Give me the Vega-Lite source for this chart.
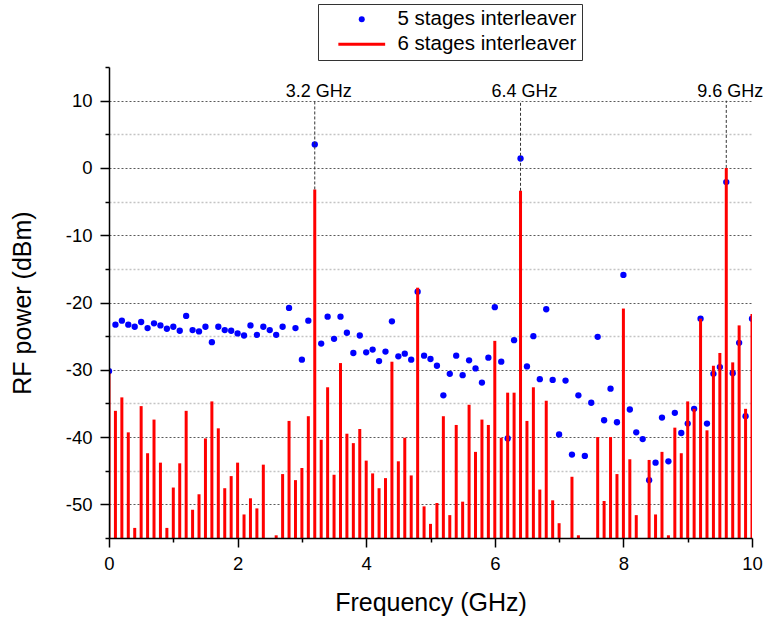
{
  "$schema": "https://vega.github.io/schema/vega-lite/v6.json",
  "width": 643,
  "height": 471,
  "autosize": {"type": "none"},
  "padding": {"left": 109, "top": 67, "right": 13, "bottom": 81},
  "background": "white",
  "config": {"view": {"stroke": null}, "font": "Liberation Sans"},
  "resolve": {"axis": {"x": "independent", "y": "independent"}},
  "datasets": {
    "p5": [
      {"f":0.0,"p":-30.2},{"f":0.1,"p":-23.3},{"f":0.2,"p":-22.7},{"f":0.3,"p":-23.3},{"f":0.4,"p":-23.6},
      {"f":0.5,"p":-22.9},{"f":0.6,"p":-23.8},{"f":0.7,"p":-23.1},{"f":0.8,"p":-23.4},{"f":0.9,"p":-23.9},
      {"f":1.0,"p":-23.6},{"f":1.1,"p":-24.2},{"f":1.2,"p":-22.0},{"f":1.3,"p":-24.1},{"f":1.4,"p":-24.3},
      {"f":1.5,"p":-23.6},{"f":1.6,"p":-25.9},{"f":1.7,"p":-23.6},{"f":1.8,"p":-24.1},{"f":1.9,"p":-24.2},
      {"f":2.0,"p":-24.6},{"f":2.1,"p":-24.9},{"f":2.2,"p":-23.4},{"f":2.3,"p":-24.8},{"f":2.4,"p":-23.6},
      {"f":2.5,"p":-24.1},{"f":2.6,"p":-24.8},{"f":2.7,"p":-23.6},{"f":2.8,"p":-20.8},{"f":2.9,"p":-23.8},
      {"f":3.0,"p":-28.5},{"f":3.1,"p":-22.7},{"f":3.2,"p":3.5},{"f":3.3,"p":-26.1},{"f":3.4,"p":-22.1},
      {"f":3.5,"p":-25.4},{"f":3.6,"p":-22.1},{"f":3.7,"p":-24.5},{"f":3.8,"p":-27.5},{"f":3.9,"p":-24.9},
      {"f":4.0,"p":-27.4},{"f":4.1,"p":-27.0},{"f":4.2,"p":-28.7},{"f":4.3,"p":-27.3},{"f":4.4,"p":-22.8},
      {"f":4.5,"p":-28.0},{"f":4.6,"p":-27.6},{"f":4.7,"p":-28.5},{"f":4.8,"p":-18.4},{"f":4.9,"p":-27.9},
      {"f":5.0,"p":-28.4},{"f":5.1,"p":-29.4},{"f":5.2,"p":-33.8},{"f":5.3,"p":-30.6},{"f":5.4,"p":-27.9},
      {"f":5.5,"p":-30.8},{"f":5.6,"p":-28.6},{"f":5.7,"p":-29.8},{"f":5.8,"p":-31.9},{"f":5.9,"p":-28.2},
      {"f":6.0,"p":-20.7},{"f":6.1,"p":-28.8},{"f":6.2,"p":-40.2},{"f":6.3,"p":-25.6},{"f":6.4,"p":1.4},
      {"f":6.5,"p":-29.5},{"f":6.6,"p":-25.0},{"f":6.7,"p":-31.4},{"f":6.8,"p":-21.0},{"f":6.9,"p":-31.5},
      {"f":7.0,"p":-39.6},{"f":7.1,"p":-31.6},{"f":7.2,"p":-42.6},{"f":7.3,"p":-33.8},{"f":7.4,"p":-42.8},
      {"f":7.5,"p":-34.9},{"f":7.6,"p":-25.1},{"f":7.7,"p":-37.5},{"f":7.8,"p":-32.8},{"f":7.9,"p":-37.8},
      {"f":8.0,"p":-15.9},{"f":8.1,"p":-35.9},{"f":8.2,"p":-39.3},{"f":8.3,"p":-40.3},{"f":8.4,"p":-46.4},
      {"f":8.5,"p":-43.8},{"f":8.6,"p":-37.1},{"f":8.7,"p":-43.6},{"f":8.8,"p":-36.4},{"f":8.9,"p":-39.4},
      {"f":9.0,"p":-38.0},{"f":9.1,"p":-35.8},{"f":9.2,"p":-22.4},{"f":9.3,"p":-38.0},{"f":9.4,"p":-30.6},
      {"f":9.5,"p":-29.6},{"f":9.6,"p":-2.1},{"f":9.7,"p":-30.5},{"f":9.8,"p":-26.0},{"f":9.9,"p":-36.9},
      {"f":10.0,"p":-22.4}
    ],
    "p6": [
      {"f":0.0,"p":-30.5},{"f":0.1,"p":-36.1},{"f":0.2,"p":-34.1},{"f":0.3,"p":-39.3},{"f":0.4,"p":-53.5},
      {"f":0.5,"p":-35.4},{"f":0.6,"p":-42.4},{"f":0.7,"p":-37.4},{"f":0.8,"p":-43.8},{"f":0.9,"p":-53.5},
      {"f":1.0,"p":-47.5},{"f":1.1,"p":-43.9},{"f":1.2,"p":-36.1},{"f":1.3,"p":-50.8},{"f":1.4,"p":-48.5},
      {"f":1.5,"p":-40.2},{"f":1.6,"p":-34.7},{"f":1.7,"p":-38.7},{"f":1.8,"p":-47.6},{"f":1.9,"p":-45.8},
      {"f":2.0,"p":-43.8},{"f":2.1,"p":-51.5},{"f":2.2,"p":-49.1},{"f":2.3,"p":-50.6},{"f":2.4,"p":-44.1},
      {"f":2.6,"p":-54.6},{"f":2.7,"p":-45.5},{"f":2.8,"p":-37.6},{"f":2.9,"p":-46.4},
      {"f":3.0,"p":-44.6},{"f":3.1,"p":-36.9},{"f":3.2,"p":-3.2},{"f":3.3,"p":-40.4},{"f":3.4,"p":-32.6},
      {"f":3.5,"p":-45.6},{"f":3.6,"p":-29.0},{"f":3.7,"p":-39.5},{"f":3.8,"p":-40.9},{"f":3.9,"p":-38.8},
      {"f":4.0,"p":-43.5},{"f":4.1,"p":-45.4},{"f":4.2,"p":-47.6},{"f":4.3,"p":-46.1},{"f":4.4,"p":-28.8},
      {"f":4.5,"p":-43.6},{"f":4.6,"p":-40.1},{"f":4.7,"p":-45.7},{"f":4.8,"p":-17.8},{"f":4.9,"p":-50.3},
      {"f":5.0,"p":-52.9},{"f":5.1,"p":-49.8},{"f":5.2,"p":-36.9},{"f":5.3,"p":-51.6},{"f":5.4,"p":-38.2},
      {"f":5.5,"p":-49.6},{"f":5.6,"p":-35.2},{"f":5.7,"p":-42.2},{"f":5.8,"p":-37.4},{"f":5.9,"p":-38.2},
      {"f":6.0,"p":-25.7},{"f":6.1,"p":-40.1},{"f":6.2,"p":-33.4},{"f":6.3,"p":-33.4},{"f":6.4,"p":-3.4},
      {"f":6.5,"p":-37.6},{"f":6.6,"p":-32.6},{"f":6.7,"p":-47.8},{"f":6.8,"p":-34.6},{"f":6.9,"p":-49.4},
      {"f":7.0,"p":-52.8},{"f":7.2,"p":-45.9},{"f":7.3,"p":-54.6},
      {"f":7.6,"p":-40.0},{"f":7.7,"p":-49.5},{"f":7.8,"p":-40.0},{"f":7.9,"p":-45.5},
      {"f":8.0,"p":-20.9},{"f":8.1,"p":-43.3},{"f":8.2,"p":-51.6},{"f":8.4,"p":-43.4},
      {"f":8.5,"p":-51.5},{"f":8.6,"p":-42.2},{"f":8.7,"p":-54.6},{"f":8.8,"p":-38.6},{"f":8.9,"p":-42.4},
      {"f":9.0,"p":-34.7},{"f":9.1,"p":-35.8},{"f":9.2,"p":-22.4},{"f":9.3,"p":-39.0},{"f":9.4,"p":-29.4},
      {"f":9.5,"p":-27.5},{"f":9.6,"p":0.0},{"f":9.7,"p":-28.9},{"f":9.8,"p":-23.4},{"f":9.9,"p":-35.8},
      {"f":10.0,"p":-21.7}
    ],
    "ann": [
      {"f":3.2,"top":-3.2,"label":"3.2 GHz"},
      {"f":6.4,"top":-3.4,"label":"6.4 GHz"},
      {"f":9.6,"top":0.0,"label":"9.6 GHz"}
    ]
  },
  "layer": [
    {
      "data": {"name": "p5"},
      "mark": {"type": "point", "filled": true, "size": 40, "opacity": 1, "clip": true},
      "encoding": {
        "x": {
          "field": "f", "type": "quantitative", "title": "Frequency (GHz)",
          "scale": {"domain": [0, 10], "nice": false, "zero": false},
          "axis": {
            "orient": "bottom", "zindex": 1,
            "values": [0,2,4,6,8,10],
            "labelExpr": "'' + datum.value",
            "labelFontSize": 18.5, "labelColor": "black", "labelFont": "Liberation Sans",
            "labelPadding": 7, "labelFlush": false, "labelOverlap": false,
            "tickSize": 9, "tickColor": "black", "tickWidth": 1.5,
            "domainColor": "black", "domainWidth": 1.5,
            "grid": false,
            "titleFontSize": 25, "titleFont": "Liberation Sans", "titleFontWeight": "normal",
            "titleColor": "black", "titlePadding": 18
          }
        },
        "y": {
          "field": "p", "type": "quantitative", "title": "RF power (dBm)",
          "scale": {"domain": [-55, 15], "nice": false, "zero": false},
          "axis": {
            "orient": "left", "zindex": 1,
            "values": [-50,-40,-30,-20,-10,0,10],
            "labelExpr": "'' + datum.value",
            "labelFontSize": 18.5, "labelColor": "black", "labelFont": "Liberation Sans",
            "labelPadding": 8, "labelFlush": false, "labelOverlap": false,
            "tickSize": 9, "tickColor": "black", "tickWidth": 1.5,
            "domainColor": "black", "domainWidth": 1.5,
            "grid": false,
            "titleFontSize": 25, "titleFont": "Liberation Sans", "titleFontWeight": "normal",
            "titleColor": "black", "titlePadding": 30
          }
        },
        "color": {
          "datum": "5 stages interleaver", "type": "nominal",
          "scale": {"domain": ["5 stages interleaver", "6 stages interleaver"], "range": ["#0000ff", "#ff0000"]},
          "legend": {
            "orient": "none", "legendX": 209, "legendY": -63,
            "title": null, "direction": "vertical",
            "labelFontSize": 20.5, "labelFont": "Liberation Sans", "labelColor": "black", "labelLimit": 400,
            "symbolSize": 36, "symbolOffset": 28.5, "labelOffset": 25.5,
            "padding": 5, "rowPadding": 4,
            "strokeColor": "#333333", "fillColor": "white"
          }
        },
        "shape": {
          "datum": "5 stages interleaver", "type": "nominal",
          "scale": {"domain": ["5 stages interleaver", "6 stages interleaver"], "range": ["circle", "M-7.8,-0.5H7.8V0.5H-7.8Z"]},
          "legend": {
            "orient": "none", "legendX": 209, "legendY": -63,
            "title": null, "direction": "vertical",
            "labelFontSize": 20.5, "labelFont": "Liberation Sans", "labelColor": "black", "labelLimit": 400,
            "symbolSize": 36, "symbolOffset": 28.5, "labelOffset": 25.5,
            "padding": 5, "rowPadding": 4,
            "strokeColor": "#333333", "fillColor": "white"
          }
        }
      }
    },
    {
      "data": {"name": "p6"},
      "mark": {"type": "rule", "strokeWidth": 3, "clip": true, "color": "#ff0000"},
      "encoding": {
        "x": {
          "field": "f", "type": "quantitative",
          "axis": {
            "orient": "bottom", "zindex": 1, "title": null,
            "values": [1,3,5,7,9], "labels": false, "domain": false, "grid": false,
            "tickSize": 4, "tickColor": "black", "tickWidth": 1.5
          }
        },
        "y": {
          "field": "p", "type": "quantitative",
          "axis": {
            "orient": "left", "zindex": 1, "title": null,
            "values": [-55,-45,-35,-25,-15,-5,5,15], "labels": false, "domain": false, "grid": false,
            "tickSize": 4, "tickColor": "black", "tickWidth": 1.5
          }
        },
        "y2": {"datum": -55}
      }
    },
    {
      "data": {"name": "ann"},
      "mark": {"type": "rule", "strokeDash": [3, 2], "color": "#333333", "strokeWidth": 1},
      "encoding": {
        "x": {"field": "f", "type": "quantitative", "axis": null},
        "y": {
          "field": "top", "type": "quantitative",
          "axis": {
            "orient": "left", "zindex": 0, "title": null,
            "values": [-45,-35,-25,-15,-5,5], "labels": false, "domain": false, "ticks": false,
            "grid": true, "gridColor": "#c4c4c4", "gridWidth": 1.5, "gridDash": [2, 2]
          }
        },
        "y2": {"datum": 10}
      }
    },
    {
      "data": {"name": "ann"},
      "mark": {"type": "text", "fontSize": 18, "baseline": "alphabetic", "align": "center", "dy": -4, "dx": 4, "color": "black", "font": "Liberation Sans"},
      "encoding": {
        "x": {"field": "f", "type": "quantitative", "axis": null},
        "y": {
          "datum": 10, "type": "quantitative",
          "axis": {
            "orient": "left", "zindex": 0, "title": null,
            "values": [-50,-40,-30,-20,-10,0,10], "labels": false, "domain": false, "ticks": false,
            "grid": true, "gridColor": "#5a5a5a", "gridWidth": 1, "gridDash": [2, 2]
          }
        },
        "text": {"field": "label", "type": "nominal"}
      }
    }
  ]
}
